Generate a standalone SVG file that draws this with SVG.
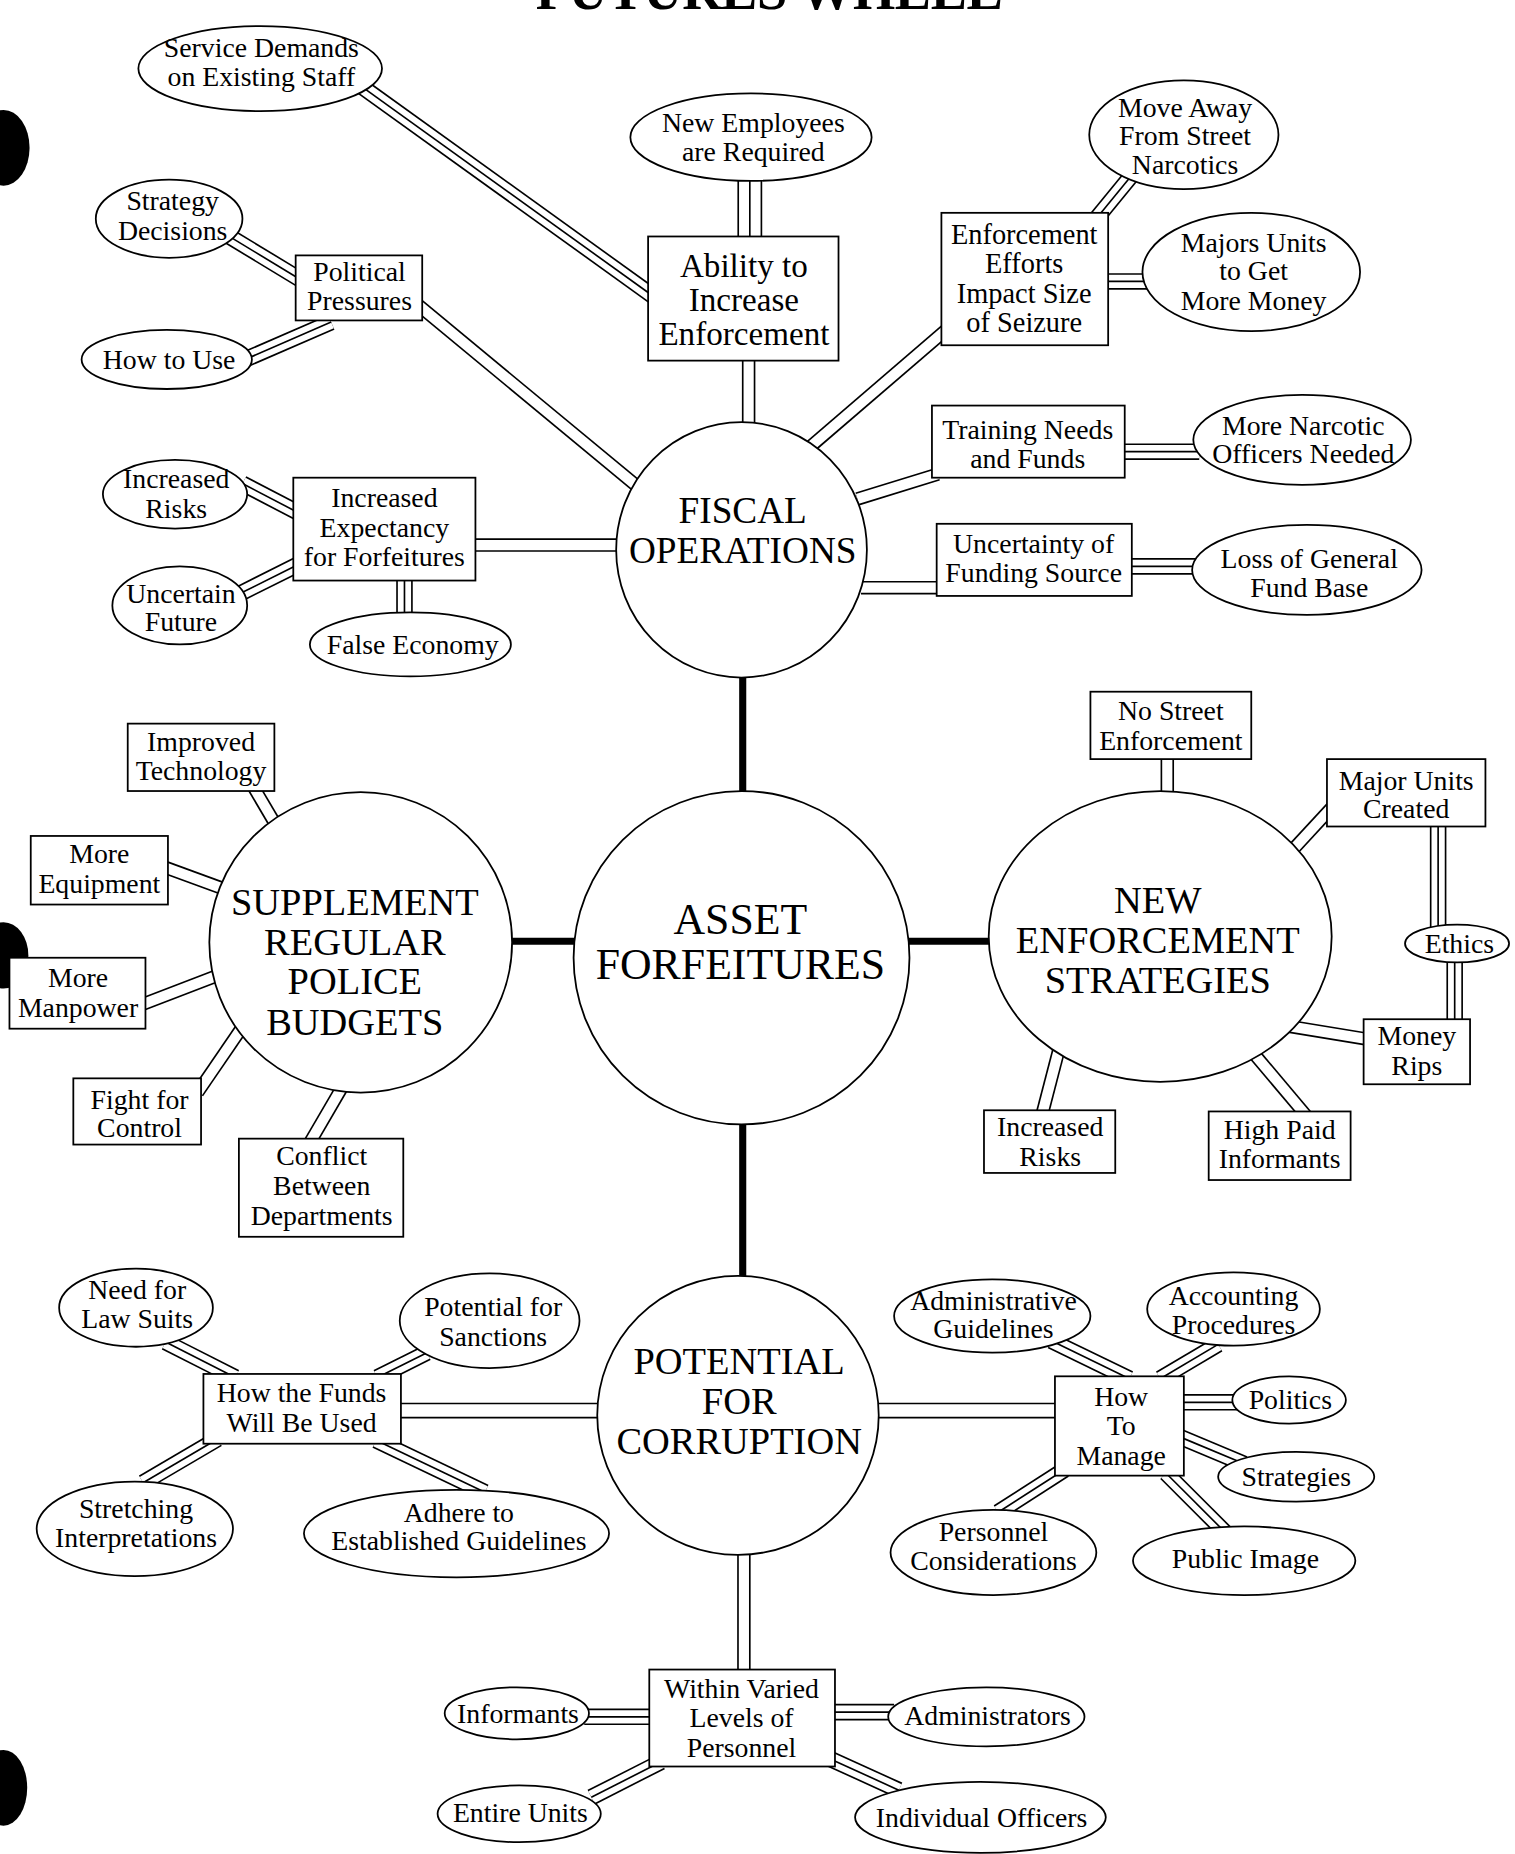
<svg xmlns="http://www.w3.org/2000/svg" width="1515" height="1854" viewBox="0 0 1515 1854">
<style>
text{font-family:"Liberation Serif","Times New Roman",serif;fill:#000;text-anchor:middle}
.s{font-size:23.5px}
.m{font-size:32.5px}
.n ellipse,.n rect{fill:#fff;stroke:#000;stroke-width:1.5}
.t1{stroke:#000;stroke-width:14;fill:none}
.t2{stroke:#fff;stroke-width:11.2;fill:none}
.t3{stroke:#000;stroke-width:1.4;fill:none}
.w1{stroke:#000;stroke-width:21;fill:none}
.w2{stroke:#fff;stroke-width:18.2;fill:none}
.d1{stroke:#000;stroke-width:11.4;fill:none}
.d2{stroke:#fff;stroke-width:8.6;fill:none}
.e1{stroke:#000;stroke-width:13.4;fill:none}
.e2{stroke:#fff;stroke-width:10.6;fill:none}
.c{stroke:#000;stroke-width:6;fill:none}
.hole{fill:#000}
</style>
<defs>
<g id="trip">
<line x1="300" y1="69" x2="553" y2="251"/>
<line x1="190" y1="197.6" x2="255" y2="237"/>
<line x1="205" y1="305" x2="280" y2="272.4"/>
<line x1="205" y1="409" x2="253" y2="434"/>
<line x1="203" y1="502" x2="253" y2="477"/>
<line x1="342" y1="487" x2="342" y2="523"/>
<line x1="958" y1="147" x2="926" y2="186"/>
<line x1="932" y1="238" x2="970" y2="238"/>
<line x1="947" y1="382" x2="1014" y2="382"/>
<line x1="953" y1="479" x2="1012" y2="479"/>
<line x1="1216" y1="696" x2="1216" y2="785"/>
<line x1="1230" y1="811" x2="1230" y2="866"/>
<line x1="140" y1="1135" x2="199" y2="1165"/>
<line x1="361" y1="1144" x2="319" y2="1165"/>
<line x1="121" y1="1254" x2="184" y2="1217"/>
<line x1="318" y1="1218" x2="410" y2="1262"/>
<line x1="889" y1="1134" x2="955" y2="1166"/>
<line x1="1030" y1="1137" x2="981" y2="1166"/>
<line x1="996" y1="1186" x2="1047" y2="1186"/>
<line x1="997" y1="1215" x2="1052" y2="1238"/>
<line x1="986" y1="1246" x2="1036" y2="1296"/>
<line x1="844" y1="1279" x2="900" y2="1243"/>
<line x1="494" y1="1452" x2="553" y2="1452"/>
<line x1="500" y1="1520" x2="559" y2="1490"/>
<line x1="702" y1="1448" x2="756" y2="1448"/>
<line x1="703" y1="1488" x2="760" y2="1514"/>
</g>
<g id="wide">
<line x1="634" y1="148" x2="634" y2="204"/>
</g>
<g id="dbl">
<line x1="633" y1="300" x2="633" y2="365"/>
<line x1="350" y1="255" x2="542" y2="414"/>
<line x1="398" y1="461" x2="526" y2="461"/>
<line x1="800" y1="279" x2="686" y2="377"/>
<line x1="793" y1="401" x2="725" y2="422"/>
<line x1="797" y1="497" x2="728" y2="497"/>
<line x1="214" y1="665" x2="234" y2="699"/>
<line x1="138" y1="733" x2="190" y2="752"/>
<line x1="119" y1="850" x2="184" y2="825"/>
<line x1="167" y1="924" x2="206" y2="867"/>
<line x1="261" y1="968" x2="289" y2="920"/>
<line x1="987" y1="640" x2="987" y2="675"/>
<line x1="1126" y1="683" x2="1090" y2="722"/>
<line x1="1157" y1="879" x2="1090" y2="868"/>
<line x1="1104" y1="943" x2="1061" y2="892"/>
<line x1="881" y1="943" x2="895" y2="889"/>
<line x1="629" y1="1308" x2="629" y2="1416"/>
</g>
<g id="dblw">
<line x1="335" y1="1193" x2="510" y2="1193"/>
<line x1="740" y1="1193" x2="896" y2="1193"/>
</g>
</defs>
<g transform="scale(1.18267 1.1824)">
<text x="453" y="8" font-size="46" font-weight="bold" textLength="395" lengthAdjust="spacing" style="text-anchor:start">FUTURES WHEEL</text>
<g id="punch-holes">
<ellipse class="hole" cx="3" cy="125" rx="22" ry="32"/>
<ellipse class="hole" cx="3" cy="808" rx="21" ry="28"/>
<ellipse class="hole" cx="3" cy="1512" rx="20" ry="32"/>
</g>
<g id="connectors">
<line class="c" x1="628" y1="565" x2="628" y2="675"/>
<line class="c" x1="628" y1="945" x2="628" y2="1086"/>
<line class="c" x1="428" y1="796" x2="490" y2="796"/>
<line class="c" x1="764" y1="796" x2="840" y2="796"/>
<use href="#dbl" class="d1"/>
<use href="#dbl" class="d2"/>
<use href="#dblw" class="e1"/>
<use href="#dblw" class="e2"/>
<use href="#trip" class="t1"/>
<use href="#trip" class="t2"/>
<use href="#trip" class="t3"/>
<use href="#wide" class="w1"/>
<use href="#wide" class="w2"/>
<use href="#wide" class="t3"/>
</g>
<g id="fiscal" class="n"><ellipse cx="627" cy="465" rx="106" ry="108"/><text x="628" y="442" font-size="31.5">FISCAL</text><text x="628" y="476" font-size="31.5">OPERATIONS</text></g>
<g id="asset" class="n"><ellipse cx="627" cy="810" rx="142" ry="141"/><text x="626" y="790" font-size="37">ASSET</text><text x="626" y="828" font-size="37">FORFEITURES</text></g>
<g id="supplement" class="n"><ellipse cx="305" cy="797" rx="128" ry="127"/><text class="m" x="300" y="774">SUPPLEMENT</text><text class="m" x="300" y="808">REGULAR</text><text class="m" x="300" y="841">POLICE</text><text class="m" x="300" y="875">BUDGETS</text></g>
<g id="new-enforcement" class="n"><ellipse cx="981" cy="792" rx="145" ry="123"/><text class="m" x="979" y="772">NEW</text><text class="m" x="979" y="806">ENFORCEMENT</text><text class="m" x="979" y="840">STRATEGIES</text></g>
<g id="potential" class="n"><ellipse cx="624" cy="1197" rx="119" ry="118"/><text class="m" x="625" y="1162">POTENTIAL</text><text class="m" x="625" y="1196">FOR</text><text class="m" x="625" y="1230">CORRUPTION</text></g>

<g id="service-demands" class="n"><ellipse cx="220" cy="58" rx="103" ry="36"/><text class="s" x="221" y="48">Service Demands</text><text class="s" x="221" y="73">on Existing Staff</text></g>
<g id="new-employees" class="n"><ellipse cx="635" cy="116" rx="102" ry="37"/><text class="s" x="637" y="112">New Employees</text><text class="s" x="637" y="136">are Required</text></g>
<g id="ability" class="n"><rect x="548" y="200" width="161" height="105"/><text x="629" y="234" font-size="28">Ability to</text><text x="629" y="263" font-size="28">Increase</text><text x="629" y="292" font-size="28">Enforcement</text></g>
<g id="political" class="n"><rect x="250" y="216" width="107" height="55"/><text class="s" x="304" y="238">Political</text><text class="s" x="304" y="262">Pressures</text></g>
<g id="strategy-decisions" class="n"><ellipse cx="143" cy="185" rx="62" ry="33"/><text class="s" x="146" y="178">Strategy</text><text class="s" x="146" y="203">Decisions</text></g>
<g id="how-to-use" class="n"><ellipse cx="141" cy="304" rx="72" ry="25"/><text class="s" x="143" y="312">How to Use</text></g>
<g id="increased-expectancy" class="n"><rect x="248" y="404" width="154" height="87"/><text class="s" x="325" y="429">Increased</text><text class="s" x="325" y="454">Expectancy</text><text class="s" x="325" y="479">for Forfeitures</text></g>
<g id="increased-risks-1" class="n"><ellipse cx="148" cy="418" rx="61" ry="29"/><text class="s" x="149" y="413">Increased</text><text class="s" x="149" y="438">Risks</text></g>
<g id="uncertain-future" class="n"><ellipse cx="152" cy="512" rx="57" ry="33"/><text class="s" x="153" y="510">Uncertain</text><text class="s" x="153" y="534">Future</text></g>
<g id="false-economy" class="n"><ellipse cx="347" cy="545" rx="85" ry="27"/><text class="s" x="349" y="553">False Economy</text></g>
<g id="enforcement-efforts" class="n"><rect x="796" y="180" width="141" height="112"/><text x="866" y="206" font-size="24">Enforcement</text><text x="866" y="231" font-size="24">Efforts</text><text x="866" y="256" font-size="24">Impact Size</text><text x="866" y="281" font-size="24">of Seizure</text></g>
<g id="move-away" class="n"><ellipse cx="1001" cy="114" rx="80" ry="46"/><text class="s" x="1002" y="99">Move Away</text><text class="s" x="1002" y="123">From Street</text><text class="s" x="1002" y="147">Narcotics</text></g>
<g id="majors-units" class="n"><ellipse cx="1058" cy="230" rx="92" ry="50"/><text class="s" x="1060" y="213">Majors Units</text><text class="s" x="1060" y="237">to Get</text><text class="s" x="1060" y="262">More Money</text></g>
<g id="training" class="n"><rect x="788" y="343" width="163" height="61"/><text class="s" x="869" y="371">Training Needs</text><text class="s" x="869" y="396">and Funds</text></g>
<g id="more-narcotic" class="n"><ellipse cx="1101" cy="372" rx="92" ry="38"/><text class="s" x="1102" y="368">More Narcotic</text><text class="s" x="1102" y="392">Officers Needed</text></g>
<g id="uncertainty" class="n"><rect x="792" y="443" width="165" height="61"/><text class="s" x="874" y="468">Uncertainty of</text><text class="s" x="874" y="492">Funding Source</text></g>
<g id="loss-general" class="n"><ellipse cx="1105" cy="482" rx="97" ry="38"/><text class="s" x="1107" y="480">Loss of General</text><text class="s" x="1107" y="505">Fund Base</text></g>

<g id="improved-technology" class="n"><rect x="108" y="612" width="124" height="57"/><text class="s" x="170" y="635">Improved</text><text class="s" x="170" y="660">Technology</text></g>
<g id="more-equipment" class="n"><rect x="26" y="707" width="116" height="58"/><text class="s" x="84" y="730">More</text><text class="s" x="84" y="755">Equipment</text></g>
<g id="more-manpower" class="n"><rect x="8" y="810" width="115" height="60"/><text class="s" x="66" y="835">More</text><text class="s" x="66" y="860">Manpower</text></g>
<g id="fight-control" class="n"><rect x="62" y="912" width="108" height="56"/><text class="s" x="118" y="938">Fight for</text><text class="s" x="118" y="962">Control</text></g>
<g id="conflict" class="n"><rect x="202" y="963" width="139" height="83"/><text class="s" x="272" y="985">Conflict</text><text class="s" x="272" y="1011">Between</text><text class="s" x="272" y="1036">Departments</text></g>

<g id="no-street" class="n"><rect x="922" y="585" width="136" height="57"/><text class="s" x="990" y="609">No Street</text><text class="s" x="990" y="634">Enforcement</text></g>
<g id="major-units-created" class="n"><rect x="1122" y="642" width="134" height="57"/><text class="s" x="1189" y="668">Major Units</text><text class="s" x="1189" y="692">Created</text></g>
<g id="ethics" class="n"><ellipse cx="1232" cy="798" rx="44" ry="16"/><text class="s" x="1234" y="806">Ethics</text></g>
<g id="money-rips" class="n"><rect x="1153" y="862" width="90" height="55"/><text class="s" x="1198" y="884">Money</text><text class="s" x="1198" y="909">Rips</text></g>
<g id="high-paid" class="n"><rect x="1022" y="940" width="120" height="58"/><text class="s" x="1082" y="963">High Paid</text><text class="s" x="1082" y="988">Informants</text></g>
<g id="increased-risks-2" class="n"><rect x="832" y="939" width="111" height="53"/><text class="s" x="888" y="961">Increased</text><text class="s" x="888" y="986">Risks</text></g>

<g id="need-law-suits" class="n"><ellipse cx="115" cy="1106" rx="65" ry="33"/><text class="s" x="116" y="1099">Need for</text><text class="s" x="116" y="1123">Law Suits</text></g>
<g id="potential-sanctions" class="n"><ellipse cx="414" cy="1117" rx="76" ry="40"/><text class="s" x="417" y="1113">Potential for</text><text class="s" x="417" y="1138">Sanctions</text></g>
<g id="how-funds" class="n"><rect x="172" y="1162" width="167" height="59"/><text class="s" x="255" y="1186">How the Funds</text><text class="s" x="255" y="1211">Will Be Used</text></g>
<g id="stretching" class="n"><ellipse cx="114" cy="1293" rx="83" ry="40"/><text class="s" x="115" y="1284">Stretching</text><text class="s" x="115" y="1308">Interpretations</text></g>
<g id="adhere" class="n"><ellipse cx="386" cy="1297" rx="129" ry="37"/><text class="s" x="388" y="1287">Adhere to</text><text class="s" x="388" y="1311">Established Guidelines</text></g>
<g id="how-to-manage" class="n"><rect x="892" y="1164" width="109" height="84"/><text class="s" x="948" y="1189">How</text><text class="s" x="948" y="1214">To</text><text class="s" x="948" y="1239">Manage</text></g>
<g id="administrative" class="n"><ellipse cx="839" cy="1113" rx="83" ry="31"/><text class="s" x="840" y="1108">Administrative</text><text class="s" x="840" y="1132">Guidelines</text></g>
<g id="accounting" class="n"><ellipse cx="1043" cy="1107" rx="73" ry="31"/><text class="s" x="1043" y="1104">Accounting</text><text class="s" x="1043" y="1128">Procedures</text></g>
<g id="politics" class="n"><ellipse cx="1090" cy="1184" rx="48" ry="20"/><text class="s" x="1091" y="1192">Politics</text></g>
<g id="strategies" class="n"><ellipse cx="1096" cy="1249" rx="66" ry="21"/><text class="s" x="1096" y="1257">Strategies</text></g>
<g id="public-image" class="n"><ellipse cx="1052" cy="1320" rx="94" ry="29"/><text class="s" x="1053" y="1326">Public Image</text></g>
<g id="personnel" class="n"><ellipse cx="840" cy="1313" rx="87" ry="36"/><text class="s" x="840" y="1303">Personnel</text><text class="s" x="840" y="1328">Considerations</text></g>
<g id="within-varied" class="n"><rect x="549" y="1412" width="157" height="82"/><text class="s" x="627" y="1436">Within Varied</text><text class="s" x="627" y="1461">Levels of</text><text class="s" x="627" y="1486">Personnel</text></g>
<g id="informants" class="n"><ellipse cx="437" cy="1449" rx="61" ry="22"/><text class="s" x="438" y="1457">Informants</text></g>
<g id="entire-units" class="n"><ellipse cx="439" cy="1534" rx="69" ry="24"/><text class="s" x="440" y="1541">Entire Units</text></g>
<g id="administrators" class="n"><ellipse cx="834" cy="1452" rx="83" ry="25"/><text class="s" x="835" y="1459">Administrators</text></g>
<g id="individual-officers" class="n"><ellipse cx="829" cy="1537" rx="106" ry="30"/><text class="s" x="830" y="1545">Individual Officers</text></g>
</g>
</svg>
